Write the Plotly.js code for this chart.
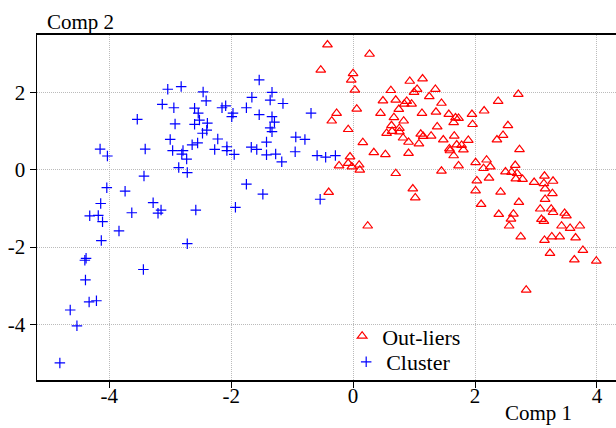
<!DOCTYPE html>
<html>
<head>
<meta charset="utf-8">
<script src="https://cdn.plot.ly/plotly-3.0.1.min.js"></script>
<style>html,body{margin:0;padding:0;background:#fff;}#chart{width:616px;height:428px;}</style>
</head>
<body>
<div id="chart"></div>
<script>
const clusterX = [-3.04,-2.82,-3.13,-2.94,-2.60,-2.54,-3.54,-2.92,-2.60,-3.00,-4.15,-4.03,-3.41,-2.96,-2.79,-2.81,-2.73,-2.64,-2.55,-2.86,-2.72,-3.43,-4.04,-3.74,-4.14,-3.28,-3.63,-3.15,-3.20,-2.58,-4.32,-4.18,-4.11,-3.84,-4.13,-2.72,-4.38,-4.40,-3.44,-4.39,-4.33,-4.21,-4.64,-4.53,-4.81,-1.54,-2.46,-1.33,-2.41,-1.66,-1.36,-1.15,-2.15,-2.09,-1.75,-1.97,-1.99,-2.52,-1.54,-1.33,-1.29,-0.69,-2.39,-2.40,-2.47,-1.36,-1.33,-2.22,-0.94,-0.79,-1.42,-2.27,-2.07,-2.07,-1.95,-1.67,-1.58,-1.42,-1.27,-1.17,-0.95,-0.59,-0.45,-0.29,-1.75,-1.48,-0.54,-1.93];
const clusterY = [2.09,2.16,1.70,1.61,1.60,1.47,1.31,1.19,1.18,0.79,0.54,0.36,0.54,0.50,0.50,0.41,0.28,0.65,0.70,0.06,-0.07,-0.16,-0.46,-0.55,-0.87,-0.85,-1.11,-1.04,-1.12,-1.04,-1.19,-1.18,-1.34,-1.58,-1.83,-1.91,-2.29,-2.34,-2.58,-2.85,-3.42,-3.39,-3.63,-4.04,-5.00,2.33,2.02,2.01,1.79,1.88,1.81,1.72,1.61,1.66,1.61,1.47,1.38,1.29,1.43,1.38,1.24,1.47,1.21,1.03,0.95,1.09,0.99,0.80,0.85,0.79,0.72,0.53,0.60,0.50,0.40,0.59,0.53,0.39,0.41,0.21,0.47,0.37,0.33,0.37,-0.37,-0.63,-0.76,-0.97];
const outlierX = [-0.42,0.27,-0.53,0.00,-0.03,0.03,-0.27,-0.35,0.06,-0.08,0.16,-0.05,-0.23,-0.08,-0.02,0.10,0.11,0.34,0.53,0.70,-0.40,0.98,1.02,0.24,0.91,1.45,1.73,0.93,1.14,0.62,1.05,1.00,1.35,1.25,0.49,0.70,0.88,0.84,0.96,1.45,0.75,0.45,1.13,1.36,1.57,1.68,1.73,1.65,0.67,0.83,0.63,0.76,0.55,0.64,0.76,1.38,1.11,1.15,1.28,0.82,0.91,1.08,1.48,1.66,1.58,1.70,1.78,1.81,1.65,1.89,1.95,2.71,2.38,2.15,1.96,2.54,2.46,2.36,1.59,2.73,2.01,2.19,2.14,2.25,2.23,2.03,2.01,2.42,2.10,2.50,2.66,2.60,2.69,2.67,2.78,2.97,3.14,3.13,3.28,3.15,3.27,3.15,2.72,3.07,3.25,3.28,3.47,3.50,2.39,2.63,2.59,2.56,3.09,3.13,3.42,3.56,3.72,2.75,3.14,3.26,3.39,3.65,3.77,3.23,3.63,3.99,2.84];
const outlierY = [3.24,3.00,2.59,2.50,2.33,2.07,1.47,1.27,1.58,1.05,0.71,0.34,0.11,0.17,0.08,0.13,0.00,0.45,0.40,-0.09,-0.58,-0.49,-0.72,-1.45,0.43,-0.03,0.11,2.30,2.36,2.06,2.09,2.01,2.09,1.90,1.79,1.81,1.78,1.71,1.71,1.73,1.57,1.47,1.47,1.50,1.44,1.35,1.34,1.23,1.36,1.27,1.15,1.08,0.95,1.00,0.99,1.12,0.93,0.87,0.88,0.83,0.72,0.68,0.78,0.88,0.55,0.65,0.64,0.52,0.37,0.77,1.44,1.96,1.78,1.53,1.18,1.15,0.90,0.78,0.50,0.53,0.19,0.26,0.04,0.08,-0.21,-0.28,-0.54,-0.57,-0.89,-0.05,0.12,-0.06,-0.09,-0.23,-0.24,-0.32,-0.16,-0.35,-0.29,-0.49,-0.61,-0.76,-0.84,-1.01,-1.01,-1.10,-1.12,-1.19,-1.15,-1.14,-1.27,-1.45,-1.28,-1.33,-1.45,-1.51,-1.45,-1.73,-1.82,-1.73,-1.73,-1.76,-2.08,-2.16,-2.33,-2.36,-3.11];
const seriesNames = ["Out-liers", "Cluster"];
const xTickVals = [-4, -2, 0, 2, 4];
const xTickText = ["-4", "-2", "0", "2", "4"];
const yTickVals = [-4, -2, 0, 2];
const yTickText = ["-4", "-2", "0", "2"];
const xTitle = "Comp 1";
const yTitle = "Comp 2";

const serif = "Liberation Serif, Times New Roman, serif";
const legendFont = {family: serif, size: 22, color: "#000"};
const traces = [
  {x: outlierX, y: outlierY, type: "scatter", mode: "markers", name: seriesNames[0], legend: "legend",
   marker: {symbol: "triangle-up-open", size: 8.5, color: "#ff0000", line: {width: 1.2, color: "#ff0000"}}},
  {x: clusterX, y: clusterY, type: "scatter", mode: "markers", name: seriesNames[1], legend: "legend2",
   marker: {symbol: "cross-thin-open", size: 7.5, color: "#0000ff", line: {width: 1.2, color: "#0000ff"}}}
];
const layout = {
  width: 616, height: 428,
  margin: {l: 37, r: 0, t: 35, b: 48, pad: 0},
  paper_bgcolor: "#ffffff", plot_bgcolor: "#ffffff",
  font: {family: serif, size: 21, color: "#000"},
  showlegend: true,
  legend: {x: 0.527, y: 0.188, xanchor: "left", yanchor: "top", bgcolor: "rgba(0,0,0,0)", font: legendFont},
  legend2: {x: 0.534, y: 0.113, xanchor: "left", yanchor: "top", bgcolor: "rgba(0,0,0,0)", font: legendFont},
  xaxis: {range: [-5.185, 4.313], tickvals: xTickVals, ticktext: xTickText,
          showline: true, linecolor: "#000", linewidth: 2, mirror: true,
          ticks: "outside", ticklen: 6, tickwidth: 1, tickcolor: "#000", ticklabelstandoff: -10,
          showgrid: true, gridcolor: "#bbbbbb", gridwidth: 1, griddash: "1px,1px",
          zeroline: false, tickfont: {family: serif, size: 21, color: "#000"}},
  yaxis: {range: [-5.443, 3.495], tickvals: yTickVals, ticktext: yTickText,
          showline: true, linecolor: "#000", linewidth: 1.5,
          ticks: "outside", ticklen: 6, tickwidth: 1, tickcolor: "#000",
          showgrid: true, gridcolor: "#bbbbbb", gridwidth: 1, griddash: "1px,1px",
          zeroline: false, tickfont: {family: serif, size: 21, color: "#000"}},
  annotations: [
    {text: yTitle, xref: "paper", yref: "paper", x: 0.0138, y: 1.038, xanchor: "left", yanchor: "middle",
     showarrow: false, font: {family: serif, size: 21, color: "#000"}},
    {text: xTitle, xref: "paper", yref: "paper", x: 0.805, y: -0.0957, xanchor: "left", yanchor: "middle",
     showarrow: false, font: {family: serif, size: 21, color: "#000"}}
  ]
};
Plotly.newPlot("chart", traces, layout, {displayModeBar: false, staticPlot: true});
</script>
</body>
</html>
